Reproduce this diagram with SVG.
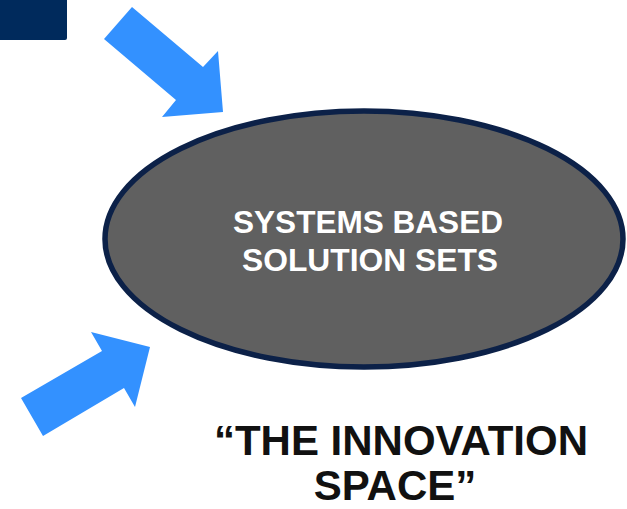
<svg xmlns="http://www.w3.org/2000/svg" width="627" height="509" viewBox="0 0 627 509">
<style>
.arrow{fill:#3391ff}
.lbl{font-family:"Liberation Sans",Arial,sans-serif;font-weight:bold;text-anchor:middle}
</style>
<rect width="627" height="509" fill="#ffffff"/>
<g id="box">
<rect x="-4" y="-4" width="71" height="44" rx="2" fill="#002a5c"/>
</g>
<g id="connectors">
<polygon class="arrow" points="132,7 203,67 218,51 223,112 162,117 176,100 104,39"/>
<polygon class="arrow" points="21,398 102,351 91,332 150,347 135,407 124,388 43,436"/>
</g>
<g id="solution">
<ellipse cx="364" cy="239" rx="259" ry="128" fill="#606060" stroke="#0c2148" stroke-width="5.5"/>
<text class="lbl" x="368" y="233" font-size="30.5" fill="#ffffff" textLength="270" lengthAdjust="spacingAndGlyphs">SYSTEMS BASED</text>
<text class="lbl" x="370" y="271" font-size="30.5" fill="#ffffff" textLength="256" lengthAdjust="spacingAndGlyphs">SOLUTION SETS</text>
</g>
<g id="caption">
<text class="lbl" x="401" y="455" font-size="42" fill="#111111">“THE INNOVATION</text>
<text class="lbl" x="395" y="500" font-size="42" fill="#111111">SPACE”</text>
</g>
</svg>
